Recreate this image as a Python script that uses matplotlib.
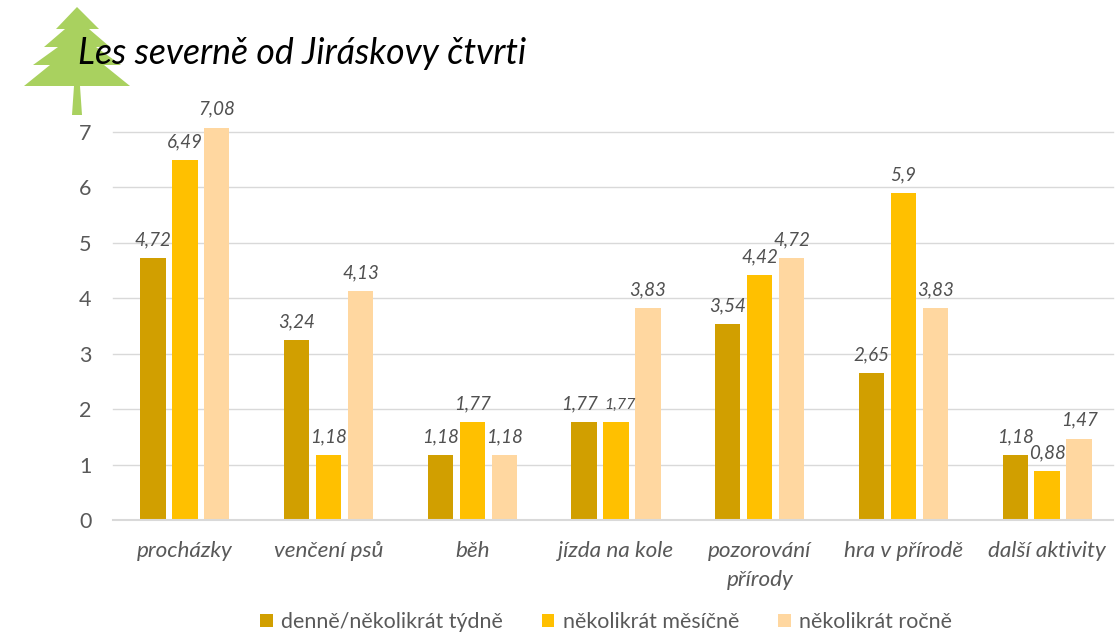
import matplotlib
matplotlib.use('Agg')
import matplotlib.pyplot as plt
import numpy as np
from matplotlib.patches import Polygon

plt.rcParams['font.family'] = ['Lato', 'Open Sans', 'DejaVu Sans']

categories = ['procházky', 'venčení psů', 'běh', 'jízda na kole', 'pozorování\npřírody', 'hra v přírodě', 'další aktivity']
series_names = ['denně/několikrát týdně', 'několikrát měsíčně', 'několikrát ročně']
denne = [4.72, 3.24, 1.18, 1.77, 3.54, 2.65, 1.18]
mesicne = [6.49, 1.18, 1.77, 1.77, 4.42, 5.9, 0.88]
rocne = [7.08, 4.13, 1.18, 3.83, 4.72, 3.83, 1.47]
colors = ['#D19F00', '#FFC000', '#FFD7A0']

W, H = 1116, 634
fig = plt.figure(figsize=(W / 100, H / 100), dpi=100, facecolor='white')

# plocha grafu v pixelech
left, right, top, bottom = 113, 1119, 132, 520
ax = fig.add_axes([left / W, 1 - bottom / H, (right - left) / W, (bottom - top) / H])
x = np.arange(len(categories))
bw = 0.176
step = 0.222

for i, (vals, c, name) in enumerate(zip([denne, mesicne, rocne], colors, series_names)):
    bars = ax.bar(x + (i - 1) * step, vals, bw, color=c, label=name, zorder=3, clip_on=False)
    for j, (b, v) in enumerate(zip(bars, vals)):
        txt = str(v).replace('.', ',')
        dx = 0
        size = 13.5
        # popisky, ktere se prekryvaji
        if categories[j] == 'jízda na kole' and i == 0:
            dx = -0.03
        if categories[j] == 'jízda na kole' and i == 1:
            dx = 0.03
            size = 11.5
        ax.annotate(txt, (b.get_x() + b.get_width() / 2 + dx, v), xytext=(0, 7),
                    textcoords='offset points', ha='center', va='bottom', fontsize=size,
                    style='italic', color='#505050', zorder=5, annotation_clip=False)

ax.set_xlim(-0.5, len(categories) - 0.5)
ax.set_ylim(0, 7)
ax.set_yticks(range(8))
ax.set_xticks(x)
ax.set_xticklabels(categories, style='italic', fontsize=16.2, color='#595959', linespacing=1.55)
ax.tick_params(axis='x', length=0, pad=15)
ax.tick_params(axis='y', length=0, pad=15.5, labelsize=15.5, labelcolor='#595959')
ax.grid(False)
for v in range(1, 8):
    ax.plot([0, 0.9945], [v, v], transform=ax.get_yaxis_transform(), color='#D9D9D9', lw=1, zorder=0, clip_on=False)
ax.plot([0, 0.9945], [0, 0], transform=ax.get_yaxis_transform(), color='#D9D9D9', lw=1.5, zorder=4, clip_on=False)
for s in ['top', 'right', 'left', 'bottom']:
    ax.spines[s].set_visible(False)

handles, labels = ax.get_legend_handles_labels()
fig.legend(handles, labels, loc='center', bbox_to_anchor=(606 / W, 1 - 622 / H), ncol=3, frameon=False,
           fontsize=15.4, labelcolor='#595959', handlelength=0.6, handleheight=0.6,
           handletextpad=0.4, columnspacing=1.8)

# stromek v pixelech obrazku
bg = fig.add_axes([0, 0, 1, 1], zorder=5)
bg.set_xlim(0, W)
bg.set_ylim(H, 0)
bg.axis('off')
bg.patch.set_alpha(0)
tree = [(77, 7), (99, 29), (89, 29), (110, 47), (96, 47), (121, 65), (104, 65), (130, 86),
        (80, 86), (82, 115), (72, 115), (74, 86), (24, 86), (50, 65), (33, 65), (58, 47),
        (44, 47), (65, 29), (56, 29)]
bg.add_patch(Polygon(tree, closed=True, fc='#A9D15F', ec='none', zorder=1))
bg.text(78, 54, 'Les severně od Jiráskovy čtvrti', fontsize=25.7, style='italic', color='black',
        ha='left', va='center', zorder=2)

fig.savefig('out.png', dpi=100)
